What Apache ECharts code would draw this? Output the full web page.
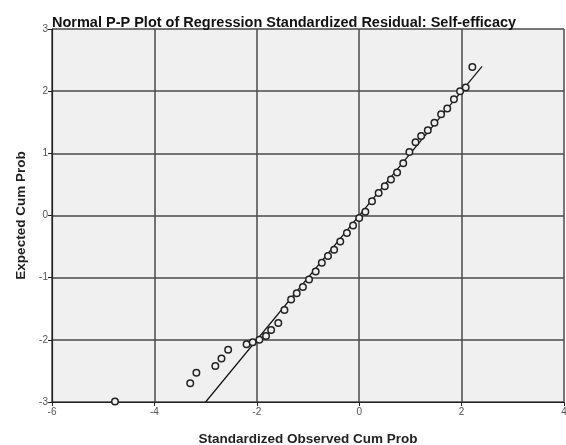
<!DOCTYPE html>
<html>
<head>
<meta charset="utf-8">
<script src="https://cdn.jsdelivr.net/npm/echarts@6/dist/echarts.min.js"></script>
<style>html,body{margin:0;padding:0;background:#fff;}#c{width:566px;height:445px;}</style>
</head>
<body>
<div id="c"></div>
<script>
const titleText = "Normal P-P Plot of Regression Standardized Residual: Self-efficacy";
const xName = "Standardized Observed Cum Prob";
const yName = "Expected Cum Prob";
const xTicks = [-6, -4, -2, 0, 2, 4];
const yTicks = [-3, -2, -1, 0, 1, 2, 3];
const obsX = [-4.77,-3.30,-3.18,-2.81,-2.69,-2.56,-2.20,-2.08,-1.95,-1.82,-1.72,-1.58,-1.46,-1.33,-1.22,-1.10,-0.98,-0.85,-0.73,-0.61,-0.49,-0.37,-0.24,-0.12,0.00,0.12,0.25,0.38,0.50,0.62,0.74,0.86,0.98,1.10,1.21,1.34,1.47,1.60,1.72,1.85,1.97,2.08,2.21];
const expY = [-2.99,-2.70,-2.53,-2.42,-2.30,-2.16,-2.07,-2.04,-2.00,-1.94,-1.84,-1.73,-1.52,-1.35,-1.25,-1.15,-1.03,-0.90,-0.76,-0.65,-0.55,-0.42,-0.28,-0.16,-0.04,0.06,0.23,0.36,0.47,0.58,0.69,0.84,1.02,1.18,1.28,1.37,1.49,1.63,1.72,1.87,2.00,2.06,2.39];
const refLineX = [-3, 2.4];
const refLineY = [-3, 2.4];

const points = obsX.map((x, i) => [x, expY[i]]);
const refLine = refLineX.map((x, i) => [x, refLineY[i]]);

const chart = echarts.init(document.getElementById('c'), null, {renderer: 'canvas'});
const tickFont = {fontSize: 10, color: '#555', fontFamily: 'Liberation Sans, Arial, sans-serif'};
const nameFont = {fontSize: 13.5, fontWeight: 'bold', color: '#222', fontFamily: 'Liberation Sans, Arial, sans-serif'};
chart.setOption({
  animation: false,
  backgroundColor: '#fff',
  title: {
    text: titleText, left: 47, top: 10,
    textStyle: {fontSize: 14.5, fontWeight: 'bold', color: '#111', fontFamily: 'Liberation Sans, Arial, sans-serif'}
  },
  grid: {left: 52, right: 2, top: 29, bottom: 43, show: true, backgroundColor: '#f0f0f0', borderWidth: 0, outerBoundsMode: 'none', containLabel: false},
  xAxis: {
    type: 'value', min: xTicks[0], max: xTicks[xTicks.length - 1], interval: 2,
    name: xName, nameLocation: 'middle', nameGap: 30, nameTextStyle: nameFont,
    axisLine: {show: true, onZero: false, lineStyle: {color: '#222', width: 1.2}},
    axisTick: {show: true, length: 4, lineStyle: {color: '#222'}},
    axisLabel: Object.assign({margin: 5}, tickFont),
    splitLine: {show: true, lineStyle: {color: '#4a4a4a', width: 1.5}}
  },
  yAxis: {
    type: 'value', min: yTicks[0], max: yTicks[yTicks.length - 1], interval: 1,
    name: yName, nameLocation: 'middle', nameGap: 24, nameTextStyle: nameFont,
    axisLine: {show: true, onZero: false, lineStyle: {color: '#222', width: 1.2}},
    axisTick: {show: true, length: 4, lineStyle: {color: '#222'}},
    axisLabel: Object.assign({margin: 4}, tickFont),
    splitLine: {show: true, lineStyle: {color: '#4a4a4a', width: 1.5}}
  },
  series: [
    {
      type: 'line', data: refLine, showSymbol: false, symbol: 'none',
      lineStyle: {color: '#111', width: 1.2}, z: 3, silent: true
    },
    {
      type: 'scatter', data: points, symbol: 'circle', symbolSize: 6.5,
      itemStyle: {color: '#f0f0f0', borderColor: '#222', borderWidth: 1.5, opacity: 1}, z: 4
    }
  ]
});
</script>
</body>
</html>
